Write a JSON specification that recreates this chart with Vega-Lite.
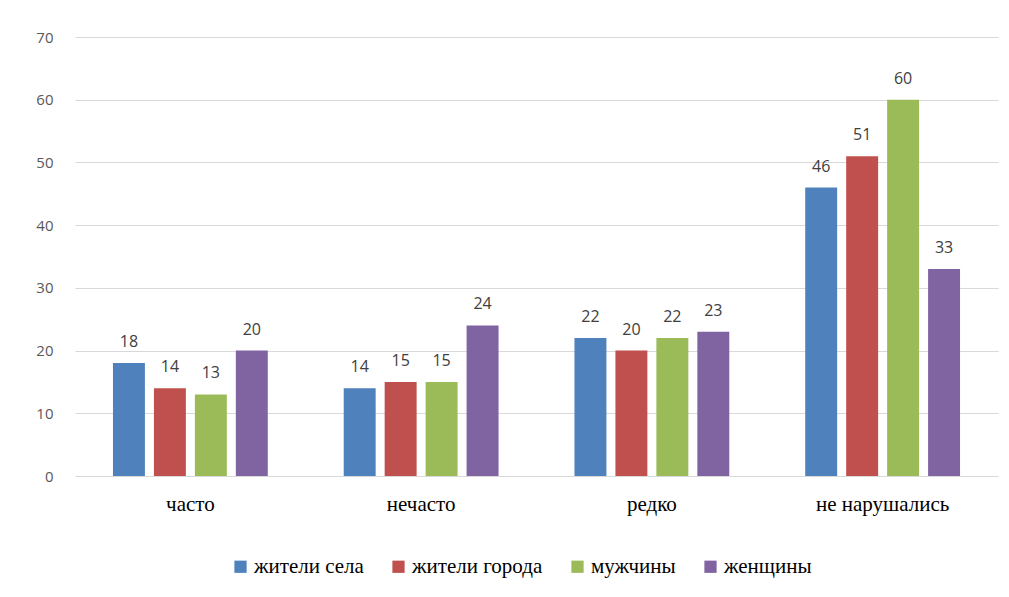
{
  "$schema": "https://vega.github.io/schema/vega-lite/v6.json",
  "autosize": "none",
  "width": 923,
  "height": 439,
  "padding": {"left": 75, "top": 37, "right": 11, "bottom": 121},
  "background": "white",
  "data": {"values": [
    {"cat": "часто", "group": "жители села", "value": 18},
    {"cat": "часто", "group": "жители города", "value": 14},
    {"cat": "часто", "group": "мужчины", "value": 13},
    {"cat": "часто", "group": "женщины", "value": 20},
    {"cat": "нечасто", "group": "жители села", "value": 14},
    {"cat": "нечасто", "group": "жители города", "value": 15},
    {"cat": "нечасто", "group": "мужчины", "value": 15},
    {"cat": "нечасто", "group": "женщины", "value": 24},
    {"cat": "редко", "group": "жители села", "value": 22},
    {"cat": "редко", "group": "жители города", "value": 20},
    {"cat": "редко", "group": "мужчины", "value": 22},
    {"cat": "редко", "group": "женщины", "value": 23},
    {"cat": "не нарушались", "group": "жители села", "value": 46},
    {"cat": "не нарушались", "group": "жители города", "value": 51},
    {"cat": "не нарушались", "group": "мужчины", "value": 60},
    {"cat": "не нарушались", "group": "женщины", "value": 33}
  ]},
  "encoding": {
    "x": {"field": "cat", "type": "nominal", "sort": null,
      "scale": {"paddingInner": 0.29, "paddingOuter": 0.145},
      "axis": {"title": null, "labelAngle": 0, "domain": false, "ticks": false,
        "labelFont": "Liberation Serif", "labelFontSize": 21, "labelColor": "#000000", "labelPadding": 17}},
    "xOffset": {"field": "group", "type": "nominal", "sort": null,
      "scale": {"paddingInner": 0.22, "paddingOuter": 0.11}},
    "y": {"field": "value", "type": "quantitative",
      "scale": {"domain": [0, 70], "nice": false},
      "axis": {"title": null, "values": [0,10,20,30,40,50,60,70], "domain": false, "ticks": false,
        "gridColor": "#D9D9D9", "gridWidth": 1,
        "labelFont": "Open Sans", "labelFontSize": 15, "labelColor": "#595959", "labelPadding": 22}}
  },
  "layer": [
    {
      "mark": {"type": "bar"},
      "encoding": {
        "color": {"field": "group", "type": "nominal", "sort": null,
          "scale": {"domain": ["жители села", "жители города", "мужчины", "женщины"],
                    "range": ["#4F81BD", "#C0504D", "#9BBB59", "#8064A2"]},
          "legend": {"title": null, "orient": "none", "legendX": 155, "legendY": 519, "direction": "horizontal",
            "symbolType": "square", "symbolSize": 150, "symbolStrokeWidth": 0,
            "labelFont": "Liberation Serif", "labelFontSize": 21, "labelColor": "#000000",
            "columnPadding": 24, "labelOffset": 3}}
      }
    },
    {
      "mark": {"type": "text", "baseline": "alphabetic", "dy": -16, "font": "Open Sans", "fontSize": 16, "color": "#404040"},
      "encoding": {"text": {"field": "value", "type": "quantitative"}}
    }
  ],
  "config": {"view": {"stroke": null}}
}
